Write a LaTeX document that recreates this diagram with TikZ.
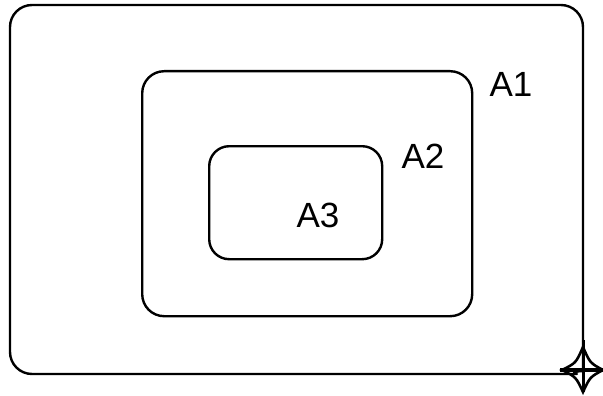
\documentclass[tikz,border=0pt]{standalone}
\usepackage{fontspec}
\setmainfont{Liberation Sans}
\begin{document}
\begin{tikzpicture}[x=1pt,y=-1pt,
  box/.style={draw=black,line width=2.4pt,rounded corners=22pt},
  lbl/.style={font=\fontsize{35}{40}\selectfont,inner sep=0pt}]
\useasboundingbox (0,0) rectangle (603,396);
% outer region (bottom-right corner is square with a marker)
\draw[line width=2.4pt,line join=round] (583,371) -- (583,27) [rounded corners=22pt] -- (583,5) -- (10,5) -- (10,374) -- (555,374) [sharp corners] .. controls (570,374) and (575,371) .. (583,371);
\node[box,minimum width=330pt,minimum height=245pt,anchor=north west] (a2box) at (141,70) {};
\node[box,rounded corners=20pt,minimum width=173pt,minimum height=113pt,anchor=north west] (a3box) at (208,145) {};
\node[lbl] (a1) at (511,84) {A1};
\node[lbl] (a2) at (423,156) {A2};
\node[lbl] (a3) at (318,215) {A3};
% corner marker
\coordinate (c) at (583,370);
\coordinate (cl) at (562,370);
\coordinate (cr) at (603,370);
\coordinate (ct) at (583,347);
\coordinate (cb) at (583,392);
\draw[line width=2.6pt] (cl) .. controls (576,363) .. (ct)
  .. controls (590,363) .. (cr)
  .. controls (590,377) .. (cb)
  .. controls (576,377) .. cycle;
\draw[line width=4pt] (560,370) -- (cr);
\draw[line width=3pt] (583,340) -- (cb);
\end{tikzpicture}
\end{document}
